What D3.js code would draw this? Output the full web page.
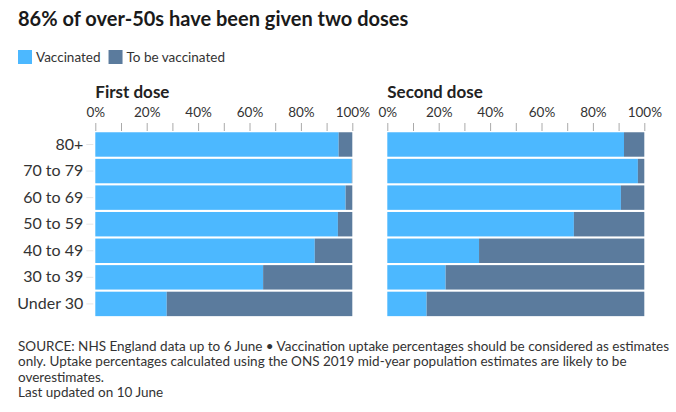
<!DOCTYPE html>
<html><head><meta charset="utf-8">
<script src="https://cdn.jsdelivr.net/npm/d3@7"></script>
<style>
body{margin:0;background:#fff;}
svg text{font-family:Lato,"Open Sans",sans-serif;}
</style></head>
<body><svg id="c" width="676" height="412"></svg>
<script>
const categories = ["80+","70 to 79","60 to 69","50 to 59","40 to 49","30 to 39","Under 30"];
const firstDose = [94.7, 99.8, 97.4, 94.4, 85.4, 65.3, 27.8];
const secondDose = [92.1, 97.5, 90.9, 72.6, 35.7, 22.7, 15.3];
const tickValues = [0,10,20,30,40,50,60,70,80,90,100];
const tickLabels = ["0%","","20%","","40%","","60%","","80%","","100%"];
const seriesNames = ["Vaccinated","To be vaccinated"];
const panelTitles = ["First dose","Second dose"];
const title = "86% of over-50s have been given two doses";
const footer = [
 "SOURCE: NHS England data up to 6 June \u2022 Vaccination uptake percentages should be considered as estimates",
 "only. Uptake percentages calculated using the ONS 2019 mid-year population estimates are likely to be",
 "overestimates.",
 "Last updated on 10 June"];

const colors = ["#4cb8ff","#5b7b9d"];
const svg = d3.select("#c");

svg.append("text").attr("x",18).attr("y",26).attr("font-size",20).attr("font-weight",700)
  .attr("fill","#1a1a1a").text(title);

// legend
let lx = 18;
seriesNames.forEach((s,i)=>{
  svg.append("rect").attr("x",lx).attr("y",50).attr("width",14).attr("height",14).attr("fill",colors[i]);
  const t = svg.append("text").attr("x",lx+18).attr("y",62).attr("font-size",13.5).attr("fill","#333").text(s);
  lx += 18 + t.node().getComputedTextLength() + 8;
});

const y = d3.scaleBand().domain(categories).range([131.2,317.2]).paddingInner(0.08).paddingOuter(0.04);

function panel(x0,x1,vals,ptitle,showY){
  const x = d3.scaleLinear().domain([0,100]).range([x0,x1]);
  const g = svg.append("g");
  g.append("text").attr("x",x0).attr("y",97.5).attr("font-size",17).attr("font-weight",700)
    .attr("fill","#222").text(ptitle);
  const ax = g.append("g").attr("transform","translate(0,131)")
    .call(d3.axisTop(x).tickValues(tickValues).tickSize(8).tickSizeOuter(0)
      .tickFormat((d,i)=>tickLabels[i]));
  ax.select(".domain").remove();
  ax.selectAll(".tick line").attr("stroke","#aaa");
  ax.selectAll(".tick text").attr("font-size",13.5).attr("fill","#333").attr("dy",0).attr("y",-14.5)
    .style("font-family","Lato,sans-serif");
  if(showY){
    const ay = g.append("g").attr("transform",`translate(${x0-2},0)`)
      .call(d3.axisLeft(y).tickSize(7).tickPadding(3));
    ay.select(".domain").remove();
    ay.selectAll(".tick line").attr("stroke","#e6e6e6");
    ay.selectAll(".tick text").attr("font-size",16).attr("fill","#333")
      .style("font-family","Lato,sans-serif");
  }
  const rows = g.selectAll(".row").data(categories.map((c,i)=>({c,v:vals[i]}))).join("g");
  rows.append("rect").attr("x",x(0)).attr("y",d=>y(d.c)).attr("height",y.bandwidth())
    .attr("width",d=>x(d.v)-x(0)).attr("fill",colors[0]);
  rows.append("rect").attr("x",d=>x(d.v)).attr("y",d=>y(d.c)).attr("height",y.bandwidth())
    .attr("width",d=>x(100)-x(d.v)).attr("fill",colors[1]);
}
panel(95.3,352.3,firstDose,panelTitles[0],true);
panel(387.3,644.3,secondDose,panelTitles[1],false);

footer.forEach((l,i)=>{
  svg.append("text").attr("x",18).attr("y",351+i*15.4).attr("font-size",13.5).attr("fill","#333").text(l);
});
</script></body></html>
